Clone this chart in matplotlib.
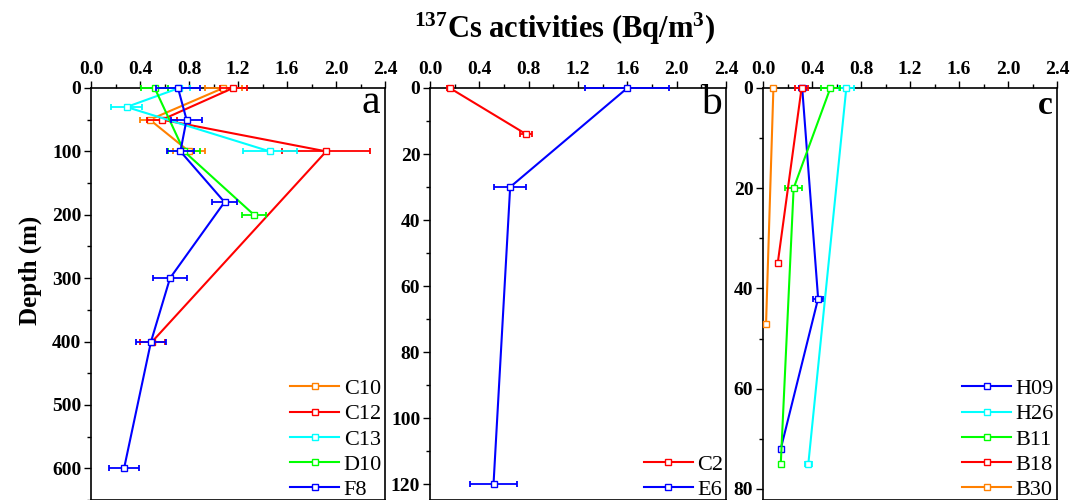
import numpy as np
import matplotlib
matplotlib.use("Agg")
import matplotlib.pyplot as plt
from matplotlib.ticker import MultipleLocator

plt.rcParams["font.family"] = ["Liberation Serif", "DejaVu Serif"]
plt.rcParams["mathtext.fontset"] = "custom"
plt.rcParams["mathtext.rm"] = "Liberation Serif"
plt.rcParams["mathtext.bf"] = "Liberation Serif:bold"

# Panel a (depth in m, 137Cs in Bq/m3, x error)
a_names = ["C10", "C12", "C13", "D10", "F8"]
a_depth = [[0, 50, 100],
           [0, 50, 100, 400],
           [0, 30, 100],
           [0, 100, 200],
           [0, 50, 100, 180, 300, 400, 600]]
a_val = [[1.08, 0.48, 0.80],
         [1.16, 0.58, 1.92, 0.50],
         [0.72, 0.29, 1.46],
         [0.52, 0.76, 1.33],
         [0.71, 0.78, 0.73, 1.09, 0.645, 0.49, 0.27]]
a_err = [[0.15, 0.08, 0.13],
         [0.11, 0.12, 0.36, 0.10],
         [0.09, 0.13, 0.22],
         [0.11, 0.13, 0.10],
         [0.18, 0.13, 0.11, 0.10, 0.14, 0.12, 0.12]]

# Panel b
b_names = ["C2", "E6"]
b_depth = [[0, 14], [0, 30, 120]]
b_val = [[0.16, 0.78], [1.60, 0.65, 0.515]]
b_err = [[0.02, 0.05], [0.34, 0.13, 0.19]]

# Panel c
c_names = ["H09", "H26", "B11", "B18", "B30"]
c_depth = [[0, 42, 72], [0, 75], [0, 20, 75], [0, 35], [0, 47]]
c_val = [[0.32, 0.45, 0.145], [0.68, 0.37], [0.55, 0.25, 0.145],
         [0.315, 0.12], [0.085, 0.025]]
c_err = [[0.03, 0.04, 0.01], [0.06, 0.03], [0.08, 0.07, 0.01],
         [0.05, 0.01], [0.01, 0.01]]

COLORS = {"C10": "#FF8000", "C12": "#FF0000", "C13": "#00FFFF", "D10": "#00FF00",
          "F8": "#0000FF", "C2": "#FF0000", "E6": "#0000FF",
          "H09": "#0000FF", "H26": "#00FFFF", "B11": "#00FF00", "B18": "#FF0000",
          "B30": "#FF8000"}

W, H = 1073, 500
fig = plt.figure(figsize=(W / 100, H / 100), dpi=100)


def make_axes(x0, x1, ymax, ymaj, ymin):
    ax = fig.add_axes([x0 / W, 0, (x1 - x0) / W, (H - 88) / H])
    ax.set_xlim(0, 2.4)
    ax.set_ylim(ymax, 0)
    ax.xaxis.set_major_locator(MultipleLocator(0.4))
    ax.xaxis.set_minor_locator(MultipleLocator(0.2))
    ax.yaxis.set_major_locator(MultipleLocator(ymaj))
    ax.yaxis.set_minor_locator(MultipleLocator(ymin))
    ax.xaxis.set_major_formatter(matplotlib.ticker.FormatStrFormatter("%.1f"))
    ax.tick_params(which="both", direction="out", top=True, bottom=False,
                   labeltop=True, labelbottom=False, left=True, right=False,
                   width=1.0)
    ax.tick_params(which="major", length=5, pad=2, labelsize=14)
    ax.tick_params(which="minor", length=3)
    for sp in ax.spines.values():
        sp.set_linewidth(1.2)
    return ax


def draw(ax, names, depths, vals, errs):
    for n, d, v, e in zip(names, depths, vals, errs):
        c = COLORS[n]
        eb = ax.errorbar(v, d, xerr=e, fmt="none", ecolor=c, elinewidth=1.3,
                         capsize=2.5, capthick=1.3, zorder=3)
        for art in eb.lines[1] + eb.lines[2]:
            art.set_clip_on(False)
        ax.plot(v, d, color=c, lw=1.5, marker="s", ms=4.5, mfc="white",
                mec=c, mew=1.0, label=n, clip_on=False, zorder=3)


ax_a = make_axes(91, 385, 650, 100, 50)
ax_b = make_axes(430, 726, 124.8, 20, 10)
ax_c = make_axes(763, 1057, 82.2, 20, 10)

draw(ax_a, a_names, a_depth, a_val, a_err)
draw(ax_b, b_names, b_depth, b_val, b_err)
draw(ax_c, c_names, c_depth, c_val, c_err)

for ax in (ax_a, ax_b, ax_c):
    for lab in ax.get_xticklabels() + ax.get_yticklabels():
        lab.set_fontweight("bold")
    ax.legend(loc="lower right", bbox_to_anchor=(0.99, 0.0), frameon=False,
              fontsize=16, numpoints=1, handlelength=2.2, handletextpad=0.2,
              labelspacing=0.21, borderaxespad=0.0, borderpad=0.0,
              markerscale=0.9)

ax_a.text(0.985, 1.012, "a", transform=ax_a.transAxes, ha="right", va="top",
          fontsize=30)
ax_b.text(0.985, 1.008, "b", transform=ax_b.transAxes, ha="right", va="top",
          fontsize=30)
ax_c.text(0.985, 0.995, "c", transform=ax_c.transAxes, ha="right", va="top",
          fontsize=24, fontweight="bold")

fig.text(30 / W, 1 - 270 / H, "Depth (m)", rotation=90, ha="center",
         va="center", fontsize=18, fontweight="bold")
fig.text(565 / W, 1 - 29 / H,
         r"$\mathbf{^{137}}$Cs activities (Bq/m$\mathbf{^{3}}$)",
         ha="center", va="center", fontsize=22, fontweight="bold")

fig.savefig("out.png", dpi=100)
